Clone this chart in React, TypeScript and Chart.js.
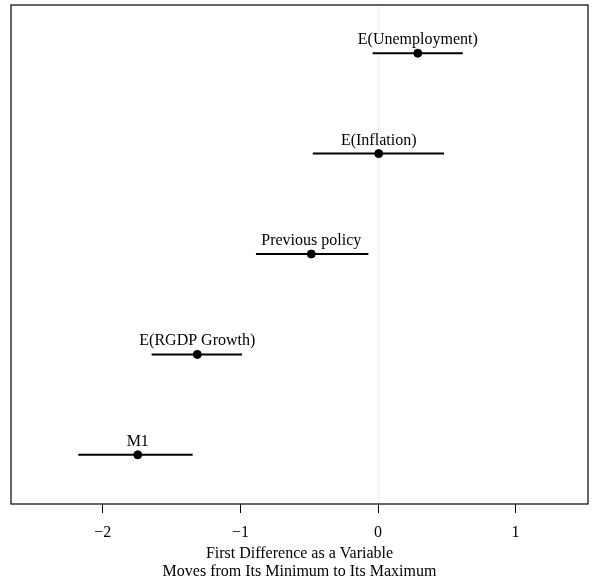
import React, { useEffect, useRef } from "react";
import { Chart, registerables } from "chart.js";

Chart.register(...registerables);

const variables = ["E(Unemployment)", "E(Inflation)", "Previous policy", "E(RGDP Growth)", "M1"];
const positions = [5, 4, 3, 2, 1];
const estimates = [0.289, 0.005, -0.485, -1.313, -1.746];
const lowerBounds = [-0.039, -0.474, -0.887, -1.645, -2.178];
const upperBounds = [0.616, 0.48, -0.07, -0.988, -1.347];
const xTickValues = [-2, -1, 0, 1];
const xTitle = ["First Difference as a Variable", "Moves from Its Minimum to Its Maximum"];

const FONT = "'Liberation Serif', 'DejaVu Serif', serif";

const boxAndLabels = {
  id: "boxAndLabels",
  afterDatasetsDraw(chart: any) {
    const { ctx, chartArea, scales } = chart;
    ctx.save();
    ctx.strokeStyle = "#000";
    ctx.lineWidth = 1.2;
    ctx.strokeRect(chartArea.left, chartArea.top, chartArea.right - chartArea.left, chartArea.bottom - chartArea.top);
    ctx.fillStyle = "#000";
    ctx.font = `16px ${FONT}`;
    ctx.textAlign = "center";
    ctx.textBaseline = "alphabetic";
    variables.forEach((name, i) => {
      const x = scales.x.getPixelForValue(estimates[i]);
      const y = scales.y.getPixelForValue(positions[i]);
      ctx.fillText(name, x, y - 9);
    });
    ctx.restore();
  },
};

export default function App() {
  const ref = useRef<HTMLCanvasElement>(null);
  useEffect(() => {
    document.body.style.margin = "0";
    const intervalSets = variables.map((name, i) => ({
      type: "line" as const,
      label: name + " interval",
      data: [
        { x: lowerBounds[i], y: positions[i] },
        { x: upperBounds[i], y: positions[i] },
      ],
      borderColor: "#000",
      borderWidth: 2,
      pointRadius: 0,
      showLine: true,
    }));
    const chart = new Chart(ref.current!, {
      type: "scatter",
      data: {
        datasets: [
          ...intervalSets,
          {
            type: "scatter" as const,
            label: "Estimate",
            data: estimates.map((v, i) => ({ x: v, y: positions[i] })),
            backgroundColor: "#000",
            borderColor: "#000",
            pointRadius: 4,
            pointHoverRadius: 4,
          },
        ] as any,
      },
      options: {
        animation: false,
        responsive: false,
        layout: { padding: { left: 11, right: 7, top: 5, bottom: 0 } },
        plugins: { legend: { display: false }, tooltip: { enabled: false } },
        scales: {
          x: {
            type: "linear",
            min: -2.667,
            max: 1.526,
            afterBuildTicks: (scale: any) => {
              scale.ticks = xTickValues.map((v) => ({ value: v }));
            },
            afterFit: (scale: any) => {
              scale.height = 79;
            },
            border: { display: false },
            grid: {
              drawOnChartArea: false,
              tickColor: "#000",
              tickLength: 9,
              tickWidth: 1,
              lineWidth: 1,
            },
            ticks: {
              color: "#000",
              padding: 12,
              font: { family: FONT, size: 16, lineHeight: 1 },
              maxRotation: 0,
              callback: (v: any) => String(v).replace("-", "\u2212"),
            },
            title: {
              display: true,
              text: xTitle,
              color: "#000",
              font: { family: FONT, size: 16, lineHeight: 1.13 },
              padding: { top: 3, bottom: 2 },
            },
          },
          y: {
            type: "linear",
            display: false,
            min: 0.51,
            max: 5.48,
          },
        },
      },
      plugins: [
        boxAndLabels,
        {
          id: "zeroDots",
          beforeDatasetsDraw(chart: any) {
            const { ctx, chartArea, scales } = chart;
            const x = Math.round(scales.x.getPixelForValue(0)) + 0.5;
            ctx.save();
            ctx.strokeStyle = "#cfcfcf";
            ctx.lineWidth = 1;
            ctx.setLineDash([1, 3]);
            ctx.beginPath();
            ctx.moveTo(x, chartArea.top);
            ctx.lineTo(x, chartArea.bottom);
            ctx.stroke();
            ctx.restore();
          },
        },
      ],
    });
    return () => chart.destroy();
  }, []);
  return (
    <div style={{ position: "fixed", left: 0, top: 0, width: 595, height: 583, background: "#fff" }}>
      <canvas ref={ref} width={595} height={583} style={{ width: 595, height: 583 }} />
    </div>
  );
}
